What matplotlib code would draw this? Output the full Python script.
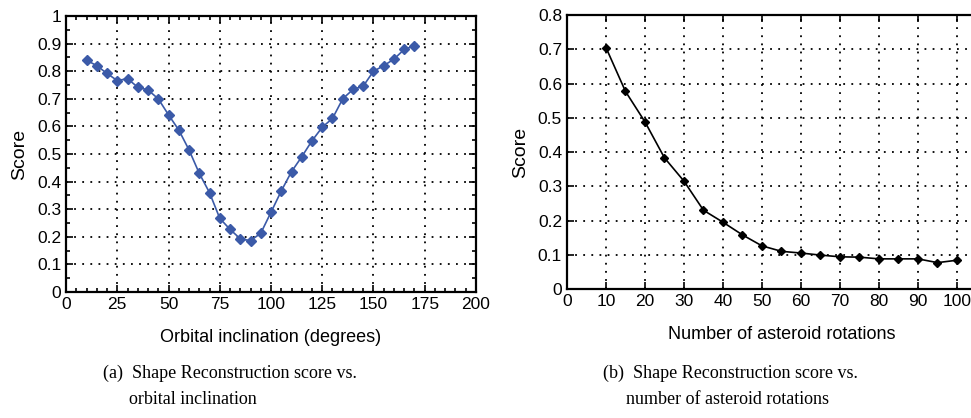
import matplotlib.pyplot as plt
from matplotlib.ticker import MultipleLocator

BLUE = "#3b5aa8"

# (a) score vs orbital inclination
incl_deg = [10, 15, 20, 25, 30, 35, 40, 45, 50, 55, 60, 65, 70, 75, 80, 85,
            90, 95, 100, 105, 110, 115, 120, 125, 130, 135, 140, 145, 150,
            155, 160, 165, 170]
score_incl = [0.84, 0.82, 0.792, 0.766, 0.773, 0.742, 0.732, 0.70, 0.642,
              0.587, 0.515, 0.43, 0.36, 0.267, 0.227, 0.193, 0.186, 0.213,
              0.289, 0.366, 0.436, 0.49, 0.548, 0.597, 0.629, 0.70, 0.734,
              0.746, 0.80, 0.82, 0.844, 0.879, 0.892]

# (b) score vs number of rotations
n_rot = [10, 15, 20, 25, 30, 35, 40, 45, 50, 55, 60, 65, 70, 75, 80, 85, 90,
         95, 100]
score_rot = [0.705, 0.577, 0.488, 0.383, 0.315, 0.23, 0.195, 0.158, 0.126,
             0.11, 0.105, 0.099, 0.094, 0.093, 0.088, 0.088, 0.088, 0.077,
             0.084]

plt.rcParams.update({
    "font.family": "Liberation Sans",
    "xtick.direction": "in",
    "ytick.direction": "in",
})

GRID = dict(color="black", linestyle=(0, (1, 3.5)), linewidth=1.3)

fig = plt.figure(figsize=(9.71, 4.18), dpi=100)

# left panel
ax1 = fig.add_axes([0.068, 0.3014, 0.4222, 0.6603])
ax1.plot(incl_deg, score_incl, color=BLUE, marker="D", markersize=5.5,
         linewidth=1.2, zorder=3)
ax1.set_xlim(0, 200)
ax1.set_ylim(0, 1)
ax1.xaxis.set_major_locator(MultipleLocator(25))
ax1.xaxis.set_minor_locator(MultipleLocator(5))
ax1.yaxis.set_major_locator(MultipleLocator(0.1))
ax1.yaxis.set_minor_locator(MultipleLocator(0.05))
ax1.set_yticklabels([f"{v:g}" for v in ax1.get_yticks()])
ax1.tick_params(which="both", top=True, right=True, labelsize=12.5,
                width=1.2)
ax1.tick_params(which="major", length=5)
ax1.tick_params(which="minor", length=3)
ax1.grid(True, which="major", **GRID)
for s in ax1.spines.values():
    s.set_linewidth(1.6)
ax1.set_ylabel("Score", fontsize=14, labelpad=6)
ax1.set_xlabel("Orbital inclination (degrees)", fontsize=13, labelpad=12)

# right panel (runs off the right edge like the source)
ax2 = fig.add_axes([0.5839, 0.3086, 0.4418, 0.6555])
ax2.plot(n_rot, score_rot, color="black", marker="D", markersize=4.5,
         linewidth=1.2, zorder=3)
ax2.set_xlim(0, 110)
ax2.set_ylim(0, 0.8)
ax2.xaxis.set_major_locator(MultipleLocator(10))
ax2.yaxis.set_major_locator(MultipleLocator(0.1))
ax2.set_xticks(range(0, 101, 10))
ax2.set_yticklabels([f"{v:g}" for v in ax2.get_yticks()])
ax2.tick_params(which="both", top=True, labelsize=12.5, width=1.2,
                length=5)
ax2.grid(True, which="major", **GRID)
for s in ax2.spines.values():
    s.set_linewidth(1.6)
ax2.set_ylabel("Score", fontsize=14, labelpad=6)
ax2.set_xlabel("Number of asteroid rotations", fontsize=13, labelpad=12)
ax2.set_clip_on(True)

# captions
cap = dict(fontsize=13, family="Liberation Serif", ha="left", va="center")
fig.text(0.106, 0.108, "(a)  Shape Reconstruction score vs.", **cap)
fig.text(0.133, 0.045, "orbital inclination", **cap)
fig.text(0.621, 0.108, "(b)  Shape Reconstruction score vs.", **cap)
fig.text(0.645, 0.045, "number of asteroid rotations", **cap)

fig.savefig("out.png", dpi=100)
